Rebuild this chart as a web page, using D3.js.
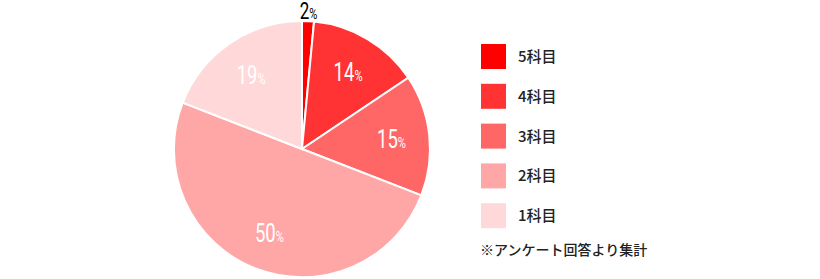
<!DOCTYPE html>
<html>
<head>
<meta charset="utf-8">
<script src="https://cdn.jsdelivr.net/npm/d3@7"></script>
<style>
  body { margin: 0; background: #fff; }
  svg { display: block; }
</style>
</head>
<body>
<div id="chart"></div>
<script>
// slices, clockwise from 12 o'clock
var categories = ["5科目", "4科目", "3科目", "2科目", "1科目"];
var values     = [1.5, 14.1, 15.3, 50, 19.1];
var labels     = ["2", "14", "15", "50", "19"]; // printed percentages
var colors     = ["#ff0000", "#ff3333", "#ff6666", "#ffa6a6", "#ffd9d9"];
var note       = "※アンケート回答より集計";

var width = 820, height = 279;
var cx = 302, cy = 149, radius = 128;

var svg = d3.select("#chart").append("svg")
    .attr("width", width)
    .attr("height", height);

var pie = d3.pie().sort(null).value(function(d){ return d.value; });
var data = categories.map(function(c, i){
    return {cat: c, value: values[i], label: labels[i], color: colors[i]};
});
var arcs = pie(data);

var arc = d3.arc().innerRadius(0).outerRadius(radius);
var labelArc = d3.arc().innerRadius(90).outerRadius(90);
var outerArc = d3.arc().innerRadius(139).outerRadius(139);

var g = svg.append("g").attr("transform", "translate(" + cx + "," + cy + ")");

g.selectAll("path.slice")
    .data(arcs)
  .enter().append("path")
    .attr("class", "slice")
    .attr("d", arc)
    .attr("fill", function(d){ return d.data.color; })
    .attr("stroke", "#fff")
    .attr("stroke-width", 2);

// small slices get their label outside, in black
// the numbers in the original are a condensed face, so squeeze Roboto
var lbl = g.selectAll("text.pct")
    .data(arcs)
  .enter().append("text")
    .attr("class", "pct")
    .attr("transform", function(d){
        var small = d.data.value < 5;
        var p = (small ? outerArc : labelArc).centroid(d);
        return "translate(" + p[0] + "," + (p[1] + 9) + ") scale(0.74,1)";
    })
    .attr("text-anchor", "middle")
    .style("font-family", "Roboto, sans-serif")
    .style("fill", function(d){ return d.data.value < 5 ? "#000" : "#fff"; });

lbl.append("tspan")
    .style("font-size", function(d){ return d.data.value < 5 ? "23px" : "25px"; })
    .text(function(d){ return d.data.label; });
lbl.append("tspan")
    .style("font-size", "15px")
    .text("%");

// legend
var legend = svg.append("g").attr("transform", "translate(481,44)");
var item = legend.selectAll("g.item")
    .data(data)
  .enter().append("g")
    .attr("class", "item")
    .attr("transform", function(d, i){ return "translate(0," + (i * 39.8) + ")"; });

item.append("rect")
    .attr("width", 25)
    .attr("height", 25)
    .attr("fill", function(d){ return d.color; });

item.append("text")
    .attr("x", 37)
    .attr("y", 18)
    .style("font-family", "'Noto Sans CJK JP', sans-serif")
    .style("font-size", "15px")
    .style("font-weight", 500)
    .style("fill", "#222")
    .text(function(d){ return d.cat; });

svg.append("text")
    .attr("x", 480)
    .attr("y", 255)
    .style("font-family", "'Noto Sans CJK JP', sans-serif")
    .style("font-size", "14px")
    .style("font-weight", 500)
    .style("fill", "#222")
    .text(note);
</script>
</body>
</html>
